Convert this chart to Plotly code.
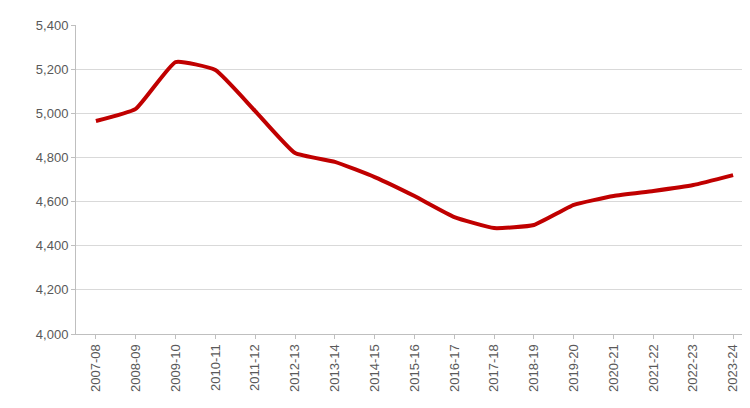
import plotly.graph_objects as go

years = ["2007-08","2008-09","2009-10","2010-11","2011-12","2012-13","2013-14","2014-15","2015-16","2016-17","2017-18","2018-19","2019-20","2020-21","2021-22","2022-23","2023-24"]
values = [4965,5020,5232,5196,5010,4820,4780,4711,4625,4530,4480,4494,4585,4625,4648,4675,4720]

fig = go.Figure(go.Scatter(x=years, y=values, mode="lines",
    line=dict(color="#C00000", width=4, shape="spline", smoothing=0.4)))
fig.update_layout(width=750, height=408, margin=dict(l=68, r=5, t=17, b=82),
    plot_bgcolor="white", paper_bgcolor="white", showlegend=False,
    font=dict(family="Liberation Sans", size=13, color="#595959"))
fig.update_yaxes(range=[4000,5400], dtick=200, tickformat=",", gridcolor="#D9D9D9",
    showline=True, linecolor="#BFBFBF", zeroline=False, ticks="outside", tickcolor="#BFBFBF", ticklen=4)
fig.update_xaxes(type="category", tickangle=-90, showgrid=False, showline=True, linecolor="#BFBFBF",
    ticks="outside", tickcolor="#BFBFBF", ticklen=4, range=[-0.5,16.5])
fig.write_html("out.html")
